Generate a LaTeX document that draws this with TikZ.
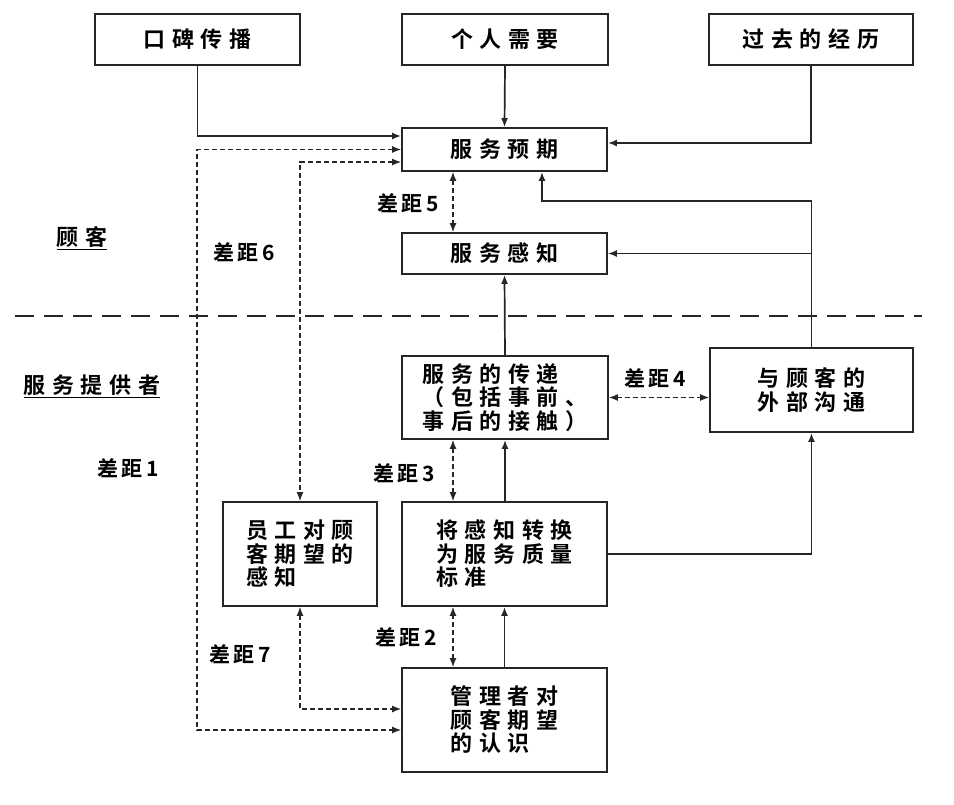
\documentclass[tikz,border=0pt]{standalone}
\usepackage{fontspec}
\usetikzlibrary{arrows.meta,calc}
\newfontfamily\cjkb[LetterSpace=30]{Noto Sans CJK SC Bold}
\newfontfamily\labf[LetterSpace=18]{Noto Sans CJK SC Bold}
\begin{document}
\begin{tikzpicture}[x=1pt,y=-1pt,
  box/.style={draw=black!85, line width=1.8pt, inner sep=0pt, align=left,
    font=\cjkb\fontsize{22}{23.5}\selectfont},
  con/.style={line width=1.7pt, draw=black!85, -{Latex[length=9pt,width=7pt]}},
  gap/.style={line width=1.3pt, draw=black!85, dash pattern=on 5pt off 3pt,
    {Latex[length=9pt,width=7pt]}-{Latex[length=9pt,width=7pt]}},
  lbl/.style={inner sep=0pt, font=\labf\fontsize{21}{23}\selectfont},
  side/.style={inner sep=0pt, font=\cjkb\fontsize{22}{24}\selectfont},
  sep/.style={line width=2.8pt, draw=black!85, dash pattern=on 19pt off 10pt}]
\useasboundingbox[fill=white] (0,0) rectangle (954,805);

% boxes
\node[box, minimum width=205pt, minimum height=51pt] (wom)  at (197.5,39.5) {口碑传播};
\node[box, minimum width=206pt, minimum height=51pt] (need) at (505,39.5)   {个人需要};
\node[box, minimum width=204pt, minimum height=51pt] (past) at (811,39.5)   {过去的经历};
\node[box, minimum width=205pt, minimum height=43pt] (exp)  at (504.5,149.5) {服务预期};
\node[box, minimum width=205pt, minimum height=41pt] (perc) at (504.5,253.5) {服务感知};
\node[box, minimum width=206pt, minimum height=83pt] (deliv) at (505,397.5)
  {服务的传递\\（包括事前、\\事后的接触）};
\node[box, minimum width=203pt, minimum height=84pt, align=center] (ext) at (811.5,390)
  {与顾客的\\外部沟通};
\node[box, minimum width=154pt, minimum height=104pt] (emp) at (300,554)
  {员工对顾\\客期望的\\感知};
\node[box, minimum width=205pt, minimum height=104pt] (std) at (504.5,554)
  {将感知转换\\为服务质量\\标准};
\node[box, minimum width=205pt, minimum height=104pt] (mgr) at (504.5,720)
  {管理者对\\顾客期望\\的认识};

% separator
\coordinate (sepL) at (15,316);
\coordinate (sepR) at (922,316);
\draw[sep] (sepL) -- (sepR);

% side labels
\node[side] (cust) at (82,238) {\underline{顾客}};
\node[side] (prov) at (92,386) {\underline{服务提供者}};
\node[lbl] (g1) at (128,468) {差距1};
\node[lbl] (g6) at (244,252) {差距6};
\node[lbl] (g5) at (408,203) {差距5};
\node[lbl] (g4) at (655,378) {差距4};
\node[lbl] (g3) at (404,473) {差距3};
\node[lbl] (g2) at (406,637) {差距2};
\node[lbl] (g7) at (240,654) {差距7};

% solid connectors
\draw[con] (wom.south) |- ([yshift=13.5pt]exp.west);
\draw[con] (need.south) -- (exp.north);
\draw[con] (past.south) |- ([yshift=6.5pt]exp.east);
\draw[con] (deliv.north) -- (perc.south);
\draw[con] (ext.north) -- (811.5,201) -| ([xshift=37.5pt]exp.south);
\draw[con] (811.5,253.5) -- (perc.east);
\draw[con] (std.north -| deliv.south) -- (deliv.south);
\draw[con] (std.east) -| (ext.south);
\draw[con] (mgr.north) -- (std.south);

% dashed gaps
\draw[gap] (exp.west) -- (197,149.5) -- (197,730) -- ([yshift=-10pt]mgr.west);
\draw[gap] ([yshift=-12.5pt]exp.west) -- (300,162) -- (emp.north);
\draw[gap] ([xshift=-51.5pt]exp.south) -- ([xshift=-51.5pt]perc.north);
\draw[gap] (deliv.east) -- (deliv.east -| ext.west);
\draw[gap] ([xshift=-51.5pt]std.north) -- ([xshift=-51.5pt]std.north |- deliv.south);
\draw[gap] ([xshift=-51.5pt]mgr.north) -- ([xshift=-51.5pt]std.south);
\draw[gap] (emp.south) -- (300,709) -- ([yshift=11pt]mgr.west);
\end{tikzpicture}
\end{document}
